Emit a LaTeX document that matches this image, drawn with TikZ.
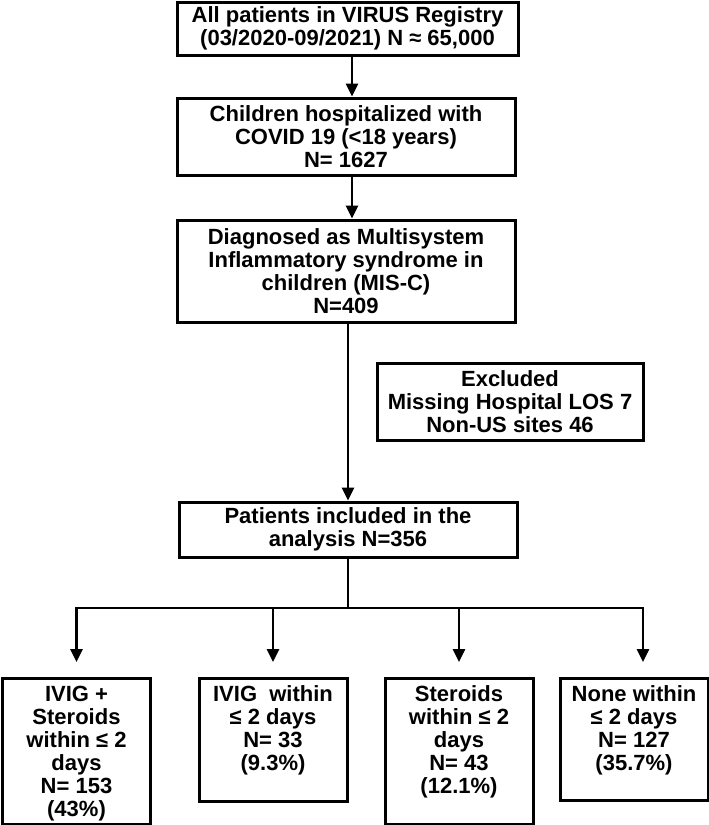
\documentclass[tikz,border=0pt]{standalone}
\usepackage{fontspec}
\setmainfont{Liberation Sans}
\usetikzlibrary{arrows.meta}
\newcommand{\armtext}[2]{\parbox[c][#1][t]{148pt}{\centering\vspace*{7pt}\strut #2}}

\begin{document}
\begin{tikzpicture}[x=1pt,y=-1pt,
		every node/.style={font=\bfseries\fontsize{22}{23}\selectfont},
		stage/.style={draw, line width=3pt, inner sep=0pt, align=center},
		arm/.style={draw, line width=3pt, inner sep=0pt, anchor=north},
		flow/.style={line width=2.8pt, -{Triangle[length=13pt,width=12pt]}}]
		\useasboundingbox (0,0) rectangle (709,825);
		\path
		(347.5,28.5) node[stage, minimum width=341pt, minimum height=53pt](a) {All patients in VIRUS Registry\\(03/2020-09/2021) N ≈ 65,000}
		(346,136.5) node[stage, minimum width=338pt, minimum height=77pt](b) {Children hospitalized with\\COVID 19 (<18 years)\\N= 1627}
		(346,271) node[stage, minimum width=338pt, minimum height=102pt](c) {Diagnosed as Multisystem\\Inflammatory syndrome in\\children (MIS-C)\\N=409}
		(510,401.5) node[stage, minimum width=266pt, minimum height=77pt](x) {Excluded\\Missing Hospital LOS 7\\Non-US sites 46}
		(348,529.5) node[stage, minimum width=338pt, minimum height=55pt](e) {Patients included in the\\analysis N=356};
		\path
		(76.5,677) node[arm](f) {\armtext{146pt}{IVIG +\\Steroids\\within ≤ 2\\days\\N= 153\\(43\%)}}
		(273,677) node[arm](g) {\armtext{123pt}{IVIG\ \ within\\≤ 2 days\\N= 33\\(9.3\%)}}
		(459,677) node[arm](h) {\armtext{146pt}{Steroids\\within ≤ 2\\days\\N= 43\\(12.1\%)}}
		(634,677) node[arm](k) {\armtext{122pt}{None within\\≤ 2 days\\N= 127\\(35.7\%)}};
		\coordinate (spine) at (352,0);
		\coordinate (split) at (348,608);
		\draw[flow] (a.south -| spine) -- (b.north -| spine);
		\draw[flow] (b.south -| spine) -- (c.north -| spine);
		\draw[flow] (c.south -| e.north) -- (e.north);
		\draw[line width=2.8pt] (e.south) -- (split);
		\draw[flow, shorten >=15pt] (split) -| (f.north);
		\draw[flow, shorten >=15pt] (split) -| (g.north);
		\draw[flow, shorten >=15pt] (split) -| (h.north);
		\draw[flow, shorten >=15pt] (split) -| ([xshift=9pt]k.north);
	\end{tikzpicture}
\end{document}
